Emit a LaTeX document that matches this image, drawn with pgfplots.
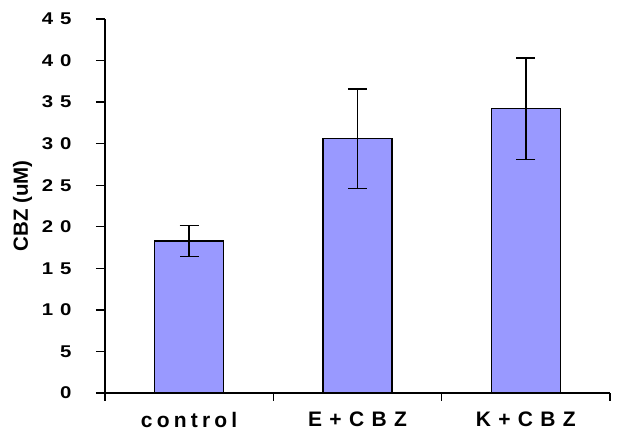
\documentclass[border=0pt]{standalone}
\usepackage{fontspec}
\setmainfont{Liberation Sans}
\newfontfamily\ytfont[LetterSpace=40,FakeStretch=1.2]{Liberation Sans}
\newfontfamily\xlow[LetterSpace=20]{Liberation Sans}
\newfontfamily\xcap[LetterSpace=35]{Liberation Sans}
\usepackage{pgfplots}
\pgfplotsset{compat=1.18}
\definecolor{barblue}{HTML}{9999FF}
\begin{document}
\begin{tikzpicture}[x=1pt,y=1pt]
\useasboundingbox (-105,-40) rectangle (535,393);
\begin{axis}[
  at={(0,0)}, anchor=south west,
  scale only axis, width=505pt, height=374pt,
  ymin=0, ymax=45, ytick={0,5,...,45},
  xmin=-0.5, xmax=2.5,
  axis x line*=bottom, axis y line*=left,
  axis line style={line width=1.3pt},
  tick align=outside,
  major tick length=9pt,
  ytick style={line width=1.3pt, black},
  xtick={0,1,2}, xticklabels={{\xlow control},{\xcap E+CBZ},{\xcap K+CBZ}},
  xtick style={draw=none},
  extra x ticks={-0.5,0.5,1.5,2.5}, extra x tick labels={},
  extra x tick style={xtick style={draw=black, line width=1.3pt}, major tick length=8pt},
  /pgf/number format/assume math mode=true,
  xticklabel style={font=\bfseries\fontsize{21}{24}\selectfont, inner ysep=0pt, text depth=0pt, yshift=-10pt},
  yticklabel style={font=\ytfont\bfseries\fontsize{17}{20}\selectfont, xshift=-21pt},
  ylabel={CBZ (uM)},
  ylabel style={font=\bfseries\fontsize{20.5}{23}\selectfont},
  every axis y label/.append style={at={(axis description cs:-0.163,0.5)}, anchor=center},
  ybar, bar width=69pt,
]
\addplot[fill=barblue, draw=black, line width=1.2pt,
  error bars/.cd, y dir=both, y explicit,
  error bar style={line width=1.5pt, black},
  error mark options={rotate=90, line width=1.5pt, mark size=9.5pt, black}]
  coordinates {(0,18.3) +- (0,1.85) (1,30.6) +- (0,6.0) (2,34.2) +- (0,6.1)};
\end{axis}
\end{tikzpicture}
\end{document}
